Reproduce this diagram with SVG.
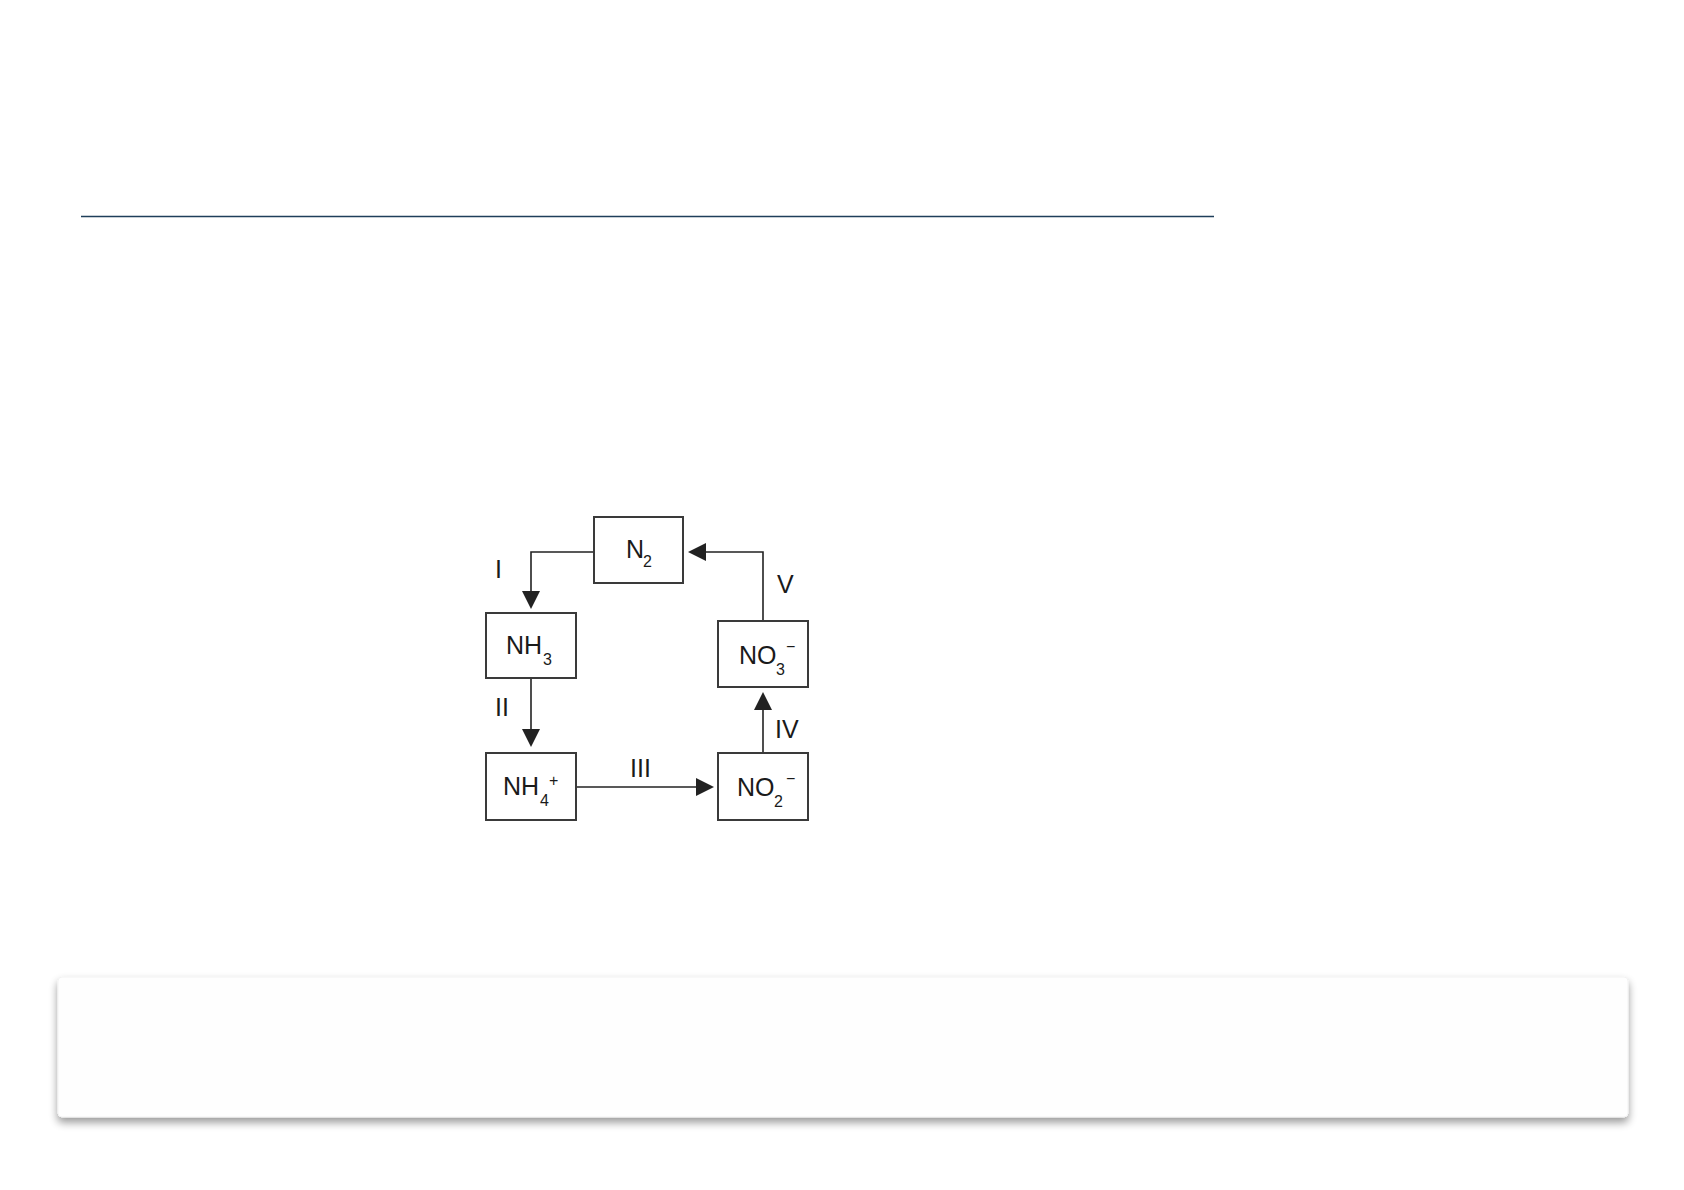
<svg xmlns="http://www.w3.org/2000/svg" width="1684" height="1190" viewBox="0 0 1684 1190">
  <style>
    .box { fill: #ffffff; stroke: #3a3a3a; stroke-width: 2; }
    .t { font-family: "Liberation Sans", Arial, sans-serif; font-size: 25px; fill: #1a1a1a; }
    .s { font-family: "Liberation Sans", Arial, sans-serif; font-size: 16px; fill: #1a1a1a; }
    .lbl { font-family: "Liberation Sans", Arial, sans-serif; font-size: 25px; fill: #1a1a1a; }
    .conn { fill: none; stroke: #222222; stroke-width: 1.6; }
  </style>
  <defs>
    <marker id="arrow" markerUnits="userSpaceOnUse" markerWidth="18" markerHeight="18" refX="0" refY="8" orient="auto" viewBox="0 0 16 16">
      <path d="M0,0 L16,8 L0,16 z" fill="#222222"/>
    </marker>
    <filter id="shadow" x="-5%" y="-20%" width="110%" height="150%">
      <feGaussianBlur in="SourceAlpha" stdDeviation="4"/>
      <feOffset dy="5" result="b"/>
      <feComponentTransfer><feFuncA type="linear" slope="0.4"/></feComponentTransfer>
      <feMerge><feMergeNode/><feMergeNode in="SourceGraphic"/></feMerge>
    </filter>
  </defs>
  <rect width="1684" height="1190" fill="#ffffff"/>
  <line x1="81" y1="216.5" x2="1214" y2="216.5" stroke="#1f3f5a" stroke-width="1.3"/>
  <rect x="58" y="977" width="1570" height="140" rx="4" fill="#fefefe" stroke="#f2f2f2" stroke-width="1" filter="url(#shadow)"/>

  <g id="connectors">
    <path class="conn" d="M594,552 H531 V591" marker-end="url(#arrow)"/>
    <path class="conn" d="M531,678 V729" marker-end="url(#arrow)"/>
    <path class="conn" d="M576,787 H696" marker-end="url(#arrow)"/>
    <path class="conn" d="M763,753 V710" marker-end="url(#arrow)"/>
    <path class="conn" d="M763,621 V552 H706" marker-end="url(#arrow)"/>
    <text class="lbl" x="495" y="578">I</text>
    <text class="lbl" x="495" y="716">II</text>
    <text class="lbl" x="630" y="777">III</text>
    <text class="lbl" x="775" y="738">IV</text>
    <text class="lbl" x="777" y="593">V</text>
  </g>

  <g id="node-n2">
    <rect class="box" x="594" y="517" width="89" height="66"/>
    <text class="t" x="626" y="558">N</text>
    <text class="s" x="643" y="567">2</text>
  </g>
  <g id="node-nh3">
    <rect class="box" x="486" y="613" width="90" height="65"/>
    <text class="t" x="506" y="654">NH</text>
    <text class="s" x="543" y="665">3</text>
  </g>
  <g id="node-nh4">
    <rect class="box" x="486" y="753" width="90" height="67"/>
    <text class="t" x="503" y="795">NH</text>
    <text class="s" x="540" y="806">4</text>
    <text class="s" x="549" y="786">+</text>
  </g>
  <g id="node-no3">
    <rect class="box" x="718" y="621" width="90" height="66"/>
    <text class="t" x="739" y="664">NO</text>
    <text class="s" x="776" y="675">3</text>
    <text class="s" x="786" y="652">−</text>
  </g>
  <g id="node-no2">
    <rect class="box" x="718" y="753" width="90" height="67"/>
    <text class="t" x="737" y="796">NO</text>
    <text class="s" x="774" y="807">2</text>
    <text class="s" x="786" y="784">−</text>
  </g>
</svg>
